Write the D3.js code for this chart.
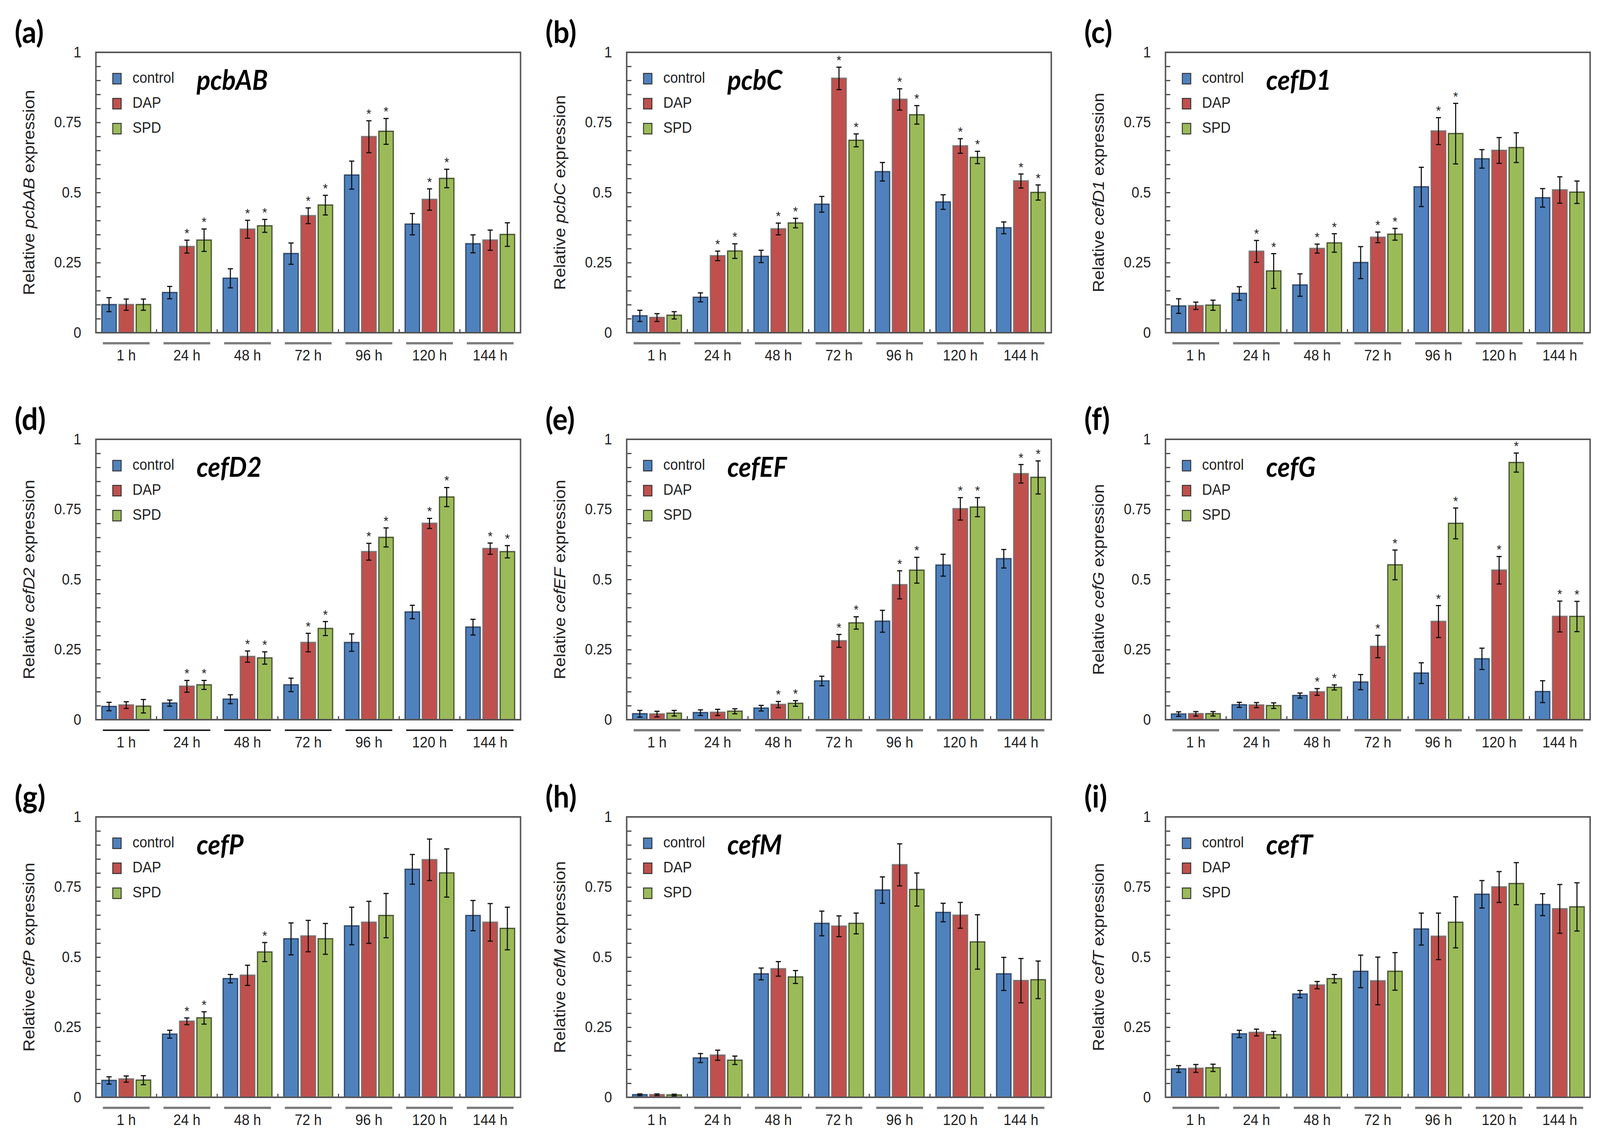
<!DOCTYPE html>
<html>
<head>
<meta charset="utf-8">
<script src="https://cdn.jsdelivr.net/npm/d3@7"></script>
<style>
  html, body { margin: 0; padding: 0; background: #fff; overflow: hidden; }
  #plot svg { display: block; }
</style>
</head>
<body>
<div id="plot"></div>
<script>
// time points and treatments
var timepoints = ["1 h", "24 h", "48 h", "72 h", "96 h", "120 h", "144 h"];
var series = ["control", "DAP", "SPD"];
var genes = ["pcbAB", "pcbC", "cefD1", "cefD2", "cefEF", "cefG", "cefP", "cefM", "cefT"];
var letters = ["(a)", "(b)", "(c)", "(d)", "(e)", "(f)", "(g)", "(h)", "(i)"];
var yTicks = [0, 0.25, 0.5, 0.75, 1];

// means: one row per treatment (control, DAP, SPD)
var meanPcbAB = [[0.10, 0.143, 0.194, 0.282, 0.562, 0.387, 0.317],
                 [0.10, 0.307, 0.369, 0.417, 0.699, 0.475, 0.33],
                 [0.10, 0.33, 0.381, 0.455, 0.718, 0.55, 0.35]];
var errPcbAB  = [[0.025, 0.022, 0.034, 0.038, 0.05, 0.038, 0.032],
                 [0.02, 0.023, 0.032, 0.028, 0.057, 0.038, 0.036],
                 [0.02, 0.04, 0.023, 0.035, 0.046, 0.033, 0.042]];
var sigPcbAB  = [[0,0,0,0,0,0,0],[0,1,1,1,1,1,0],[0,1,1,1,1,1,0]];

var meanPcbC = [[0.06, 0.126, 0.272, 0.458, 0.574, 0.466, 0.374],
                [0.054, 0.274, 0.37, 0.907, 0.832, 0.666, 0.541],
                [0.062, 0.291, 0.391, 0.686, 0.777, 0.625, 0.50]];
var errPcbC  = [[0.02, 0.016, 0.022, 0.028, 0.033, 0.026, 0.021],
                [0.014, 0.017, 0.021, 0.04, 0.038, 0.026, 0.025],
                [0.013, 0.026, 0.017, 0.023, 0.033, 0.022, 0.027]];
var sigPcbC  = [[0,0,0,0,0,0,0],[0,1,1,1,1,1,1],[0,1,1,1,1,1,1]];

var meanCefD1 = [[0.095, 0.14, 0.17, 0.25, 0.52, 0.62, 0.481],
                 [0.096, 0.29, 0.30, 0.34, 0.719, 0.65, 0.509],
                 [0.098, 0.22, 0.32, 0.351, 0.71, 0.66, 0.501]];
var errCefD1  = [[0.026, 0.024, 0.04, 0.057, 0.07, 0.033, 0.033],
                 [0.013, 0.039, 0.016, 0.019, 0.048, 0.046, 0.047],
                 [0.018, 0.062, 0.033, 0.021, 0.108, 0.053, 0.04]];
var sigCefD1  = [[0,0,0,0,0,0,0],[0,1,1,1,1,0,0],[0,1,1,1,1,0,0]];

var meanCefD2 = [[0.047, 0.059, 0.073, 0.124, 0.275, 0.384, 0.33],
                 [0.052, 0.119, 0.225, 0.275, 0.599, 0.70, 0.61],
                 [0.048, 0.124, 0.22, 0.325, 0.65, 0.794, 0.599]];
var errCefD2  = [[0.015, 0.011, 0.016, 0.024, 0.031, 0.024, 0.028],
                 [0.012, 0.021, 0.02, 0.033, 0.03, 0.018, 0.02],
                 [0.024, 0.016, 0.022, 0.025, 0.034, 0.034, 0.022]];
var sigCefD2  = [[0,0,0,0,0,0,0],[0,1,1,1,1,1,1],[0,1,1,1,1,1,1]];

var meanCefEF = [[0.021, 0.025, 0.041, 0.138, 0.351, 0.551, 0.574],
                 [0.02, 0.026, 0.054, 0.281, 0.481, 0.752, 0.877],
                 [0.023, 0.03, 0.058, 0.345, 0.533, 0.758, 0.864]];
var errCefEF  = [[0.012, 0.01, 0.01, 0.017, 0.039, 0.039, 0.033],
                 [0.01, 0.011, 0.011, 0.023, 0.05, 0.04, 0.033],
                 [0.01, 0.009, 0.01, 0.022, 0.046, 0.034, 0.059]];
var sigCefEF  = [[0,0,0,0,0,0,0],[0,0,1,1,1,1,1],[0,0,1,1,1,1,1]];

var meanCefG = [[0.02, 0.053, 0.086, 0.134, 0.166, 0.217, 0.10],
                [0.021, 0.052, 0.099, 0.261, 0.35, 0.533, 0.368],
                [0.021, 0.05, 0.115, 0.552, 0.70, 0.917, 0.368]];
var errCefG  = [[0.008, 0.009, 0.009, 0.027, 0.037, 0.038, 0.039],
                [0.008, 0.009, 0.012, 0.04, 0.057, 0.049, 0.055],
                [0.008, 0.01, 0.009, 0.053, 0.055, 0.034, 0.054]];
var sigCefG  = [[0,0,0,0,0,0,0],[0,0,1,1,1,1,1],[0,0,1,1,1,1,1]];

var meanCefP = [[0.06, 0.225, 0.423, 0.565, 0.611, 0.813, 0.648],
                [0.065, 0.271, 0.435, 0.575, 0.624, 0.847, 0.624],
                [0.061, 0.283, 0.518, 0.565, 0.648, 0.80, 0.602]];
var errCefP  = [[0.013, 0.014, 0.015, 0.057, 0.067, 0.053, 0.054],
                [0.011, 0.012, 0.036, 0.056, 0.075, 0.074, 0.067],
                [0.016, 0.022, 0.034, 0.055, 0.079, 0.086, 0.076]];
var sigCefP  = [[0,0,0,0,0,0,0],[0,1,0,0,0,0,0],[0,1,1,0,0,0,0]];

var meanCefM = [[0.009, 0.14, 0.44, 0.62, 0.739, 0.659, 0.44],
                [0.009, 0.15, 0.458, 0.61, 0.829, 0.649, 0.416],
                [0.008, 0.132, 0.429, 0.62, 0.741, 0.554, 0.419]];
var errCefM  = [[0.003, 0.016, 0.021, 0.044, 0.047, 0.033, 0.059],
                [0.003, 0.018, 0.026, 0.037, 0.075, 0.046, 0.079],
                [0.003, 0.015, 0.023, 0.037, 0.059, 0.097, 0.067]];
var sigCefM  = [[0,0,0,0,0,0,0],[0,0,0,0,0,0,0],[0,0,0,0,0,0,0]];

var meanCefT = [[0.101, 0.226, 0.368, 0.449, 0.60, 0.724, 0.687],
                [0.103, 0.231, 0.40, 0.415, 0.574, 0.75, 0.672],
                [0.105, 0.223, 0.423, 0.449, 0.624, 0.762, 0.679]];
var errCefT  = [[0.012, 0.013, 0.013, 0.058, 0.057, 0.049, 0.039],
                [0.014, 0.012, 0.013, 0.085, 0.083, 0.055, 0.087],
                [0.013, 0.012, 0.015, 0.067, 0.091, 0.075, 0.086]];
var sigCefT  = [[0,0,0,0,0,0,0],[0,0,0,0,0,0,0],[0,0,0,0,0,0,0]];

var means = [meanPcbAB, meanPcbC, meanCefD1, meanCefD2, meanCefEF, meanCefG, meanCefP, meanCefM, meanCefT];
var errs  = [errPcbAB, errPcbC, errCefD1, errCefD2, errCefEF, errCefG, errCefP, errCefM, errCefT];
var sigs  = [sigPcbAB, sigPcbC, sigCefD1, sigCefD2, sigCefEF, sigCefG, sigCefP, sigCefM, sigCefT];

var colors = { control: "#4f81bd", DAP: "#c0504d", SPD: "#9bbb59" };
var strokes = { control: "#1f3d66", DAP: "#7a6a6a", SPD: "#3b4a20" };

var W = 4371, H = 2904;
var colLeft = [262, 1712, 3184];
var rowTop = [134, 1125, 2092];
var pw = 1160, ph = 718;

// the figure is stretched over the whole viewport
var svg = d3.select("#plot").append("svg")
  .attr("viewBox", "0 0 " + W + " " + H)
  .attr("preserveAspectRatio", "none")
  .style("width", "100vw").style("height", "100vh")
  .style("font-family", "'Liberation Sans', Arial, sans-serif");

svg.append("rect").attr("width", W).attr("height", H).attr("fill", "#fff");

genes.forEach(function(gene, gi) {
  var left = colLeft[gi % 3], top = rowTop[Math.floor(gi / 3)];
  var g = svg.append("g").attr("transform", "translate(" + left + "," + top + ")");

  var x0 = d3.scaleBand().domain(timepoints).range([0, pw]);
  var x1 = d3.scaleBand().domain(series).range([0, x0.bandwidth()])
    .paddingInner(0.17).paddingOuter(0.35);
  var y = d3.scaleLinear().domain([0, 1]).range([ph, 0]);

  // minor ticks every 0.05, inward
  g.append("g")
    .call(d3.axisRight(y).tickValues(d3.range(0, 1.0001, 0.05)).tickSize(13).tickFormat(""))
    .call(function(a) { a.select(".domain").remove(); a.selectAll("line").attr("stroke", "#444").attr("stroke-width", 3); });

  // y tick labels
  g.append("g")
    .call(d3.axisLeft(y).tickValues(yTicks).tickSize(0).tickPadding(40).tickFormat(d3.format("")))
    .call(function(a) {
      a.select(".domain").remove();
      a.selectAll("text").attr("font-size", 38).attr("fill", "#222")
        .attr("font-family", "'Liberation Sans', Arial, sans-serif");
    });

  // category separator ticks on the bottom axis
  g.selectAll(".sep").data(timepoints.slice(1)).enter().append("line")
    .attr("x1", function(d) { return x0(d); }).attr("x2", function(d) { return x0(d); })
    .attr("y1", ph).attr("y2", ph - 9)
    .attr("stroke", "#444").attr("stroke-width", 3);

  // bars
  var groups = g.selectAll(".grp").data(timepoints).enter().append("g")
    .attr("transform", function(d) { return "translate(" + x0(d) + ",0)"; });

  groups.each(function(tp, ti) {
    var gg = d3.select(this);
    series.forEach(function(s, si) {
      var v = means[gi][si][ti], e = errs[gi][si][ti];
      var bx = x1(s), bw = x1.bandwidth();
      gg.append("rect")
        .attr("x", bx - 2.5).attr("y", y(v) - 2.5)
        .attr("width", bw + 5).attr("height", ph - y(v) + 2.5)
        .attr("fill", "#999").attr("opacity", 0.75);
      gg.append("rect")
        .attr("x", bx).attr("y", y(v))
        .attr("width", bw).attr("height", ph - y(v))
        .attr("fill", colors[s]).attr("stroke", strokes[s]).attr("stroke-width", 2.5);
      // error bar
      var cx = bx + bw / 2;
      var eb = gg.append("g").attr("stroke", "#111").attr("stroke-width", 3);
      eb.append("line").attr("x1", cx).attr("x2", cx).attr("y1", y(v - e)).attr("y2", y(v + e));
      eb.append("line").attr("x1", cx - 7).attr("x2", cx + 7).attr("y1", y(v + e)).attr("y2", y(v + e));
      eb.append("line").attr("x1", cx - 7).attr("x2", cx + 7).attr("y1", y(v - e)).attr("y2", y(v - e));
      if (sigs[gi][si][ti]) {
        gg.append("text").attr("x", cx).attr("y", y(v + e) - 6)
          .attr("text-anchor", "middle").attr("font-size", 34).attr("fill", "#222")
          .text("*");
      }
    });
  });

  // plot frame
  g.append("rect").attr("x", 0).attr("y", 0).attr("width", pw).attr("height", ph)
    .attr("fill", "none").attr("stroke", "#555").attr("stroke-width", 4);

  // group underlines and labels
  var lineColor = gi === 3 ? "#222" : "#7f7f7f";
  g.selectAll(".ul").data(timepoints).enter().append("line")
    .attr("x1", function(d) { return x0(d) + 19; })
    .attr("x2", function(d) { return x0(d) + x0.bandwidth() - 19; })
    .attr("y1", ph + 27).attr("y2", ph + 27)
    .attr("stroke", lineColor).attr("stroke-width", gi === 3 ? 4 : 6);
  g.selectAll(".tl").data(timepoints).enter().append("text")
    .attr("x", function(d) { return x0(d) + x0.bandwidth() / 2; })
    .attr("y", ph + 71)
    .attr("text-anchor", "middle").attr("font-size", 38).attr("fill", "#222")
    .text(function(d) { return d; });

  // legend
  series.forEach(function(s, si) {
    g.append("rect").attr("x", 46).attr("y", 54 + si * 64).attr("width", 23).attr("height", 27)
      .attr("fill", colors[s]).attr("stroke", "#333").attr("stroke-width", 2.5);
    g.append("text").attr("x", 100).attr("y", 78 + si * 64)
      .attr("font-size", 38).attr("fill", "#222").text(s);
  });

  // gene title
  g.append("text").attr("x", 275).attr("y", 96)
    .attr("font-family", "Lato, sans-serif").attr("font-weight", "bold").attr("font-style", "italic")
    .attr("font-size", 70).attr("fill", "#000").text(gene);

  // y axis label
  var yl = g.append("text")
    .attr("transform", "translate(-168," + (ph / 2) + ") rotate(-90)")
    .attr("text-anchor", "middle").attr("font-size", 44).attr("fill", "#222");
  yl.append("tspan").text("Relative ");
  yl.append("tspan").attr("font-style", "italic").text(gene);
  yl.append("tspan").text(" expression");

  // panel letter
  g.append("text").attr("x", -222).attr("y", -24)
    .attr("font-family", "Lato, sans-serif").attr("font-weight", "bold")
    .attr("font-size", 78).attr("fill", "#000").text(letters[gi]);
});
</script>
</body>
</html>
